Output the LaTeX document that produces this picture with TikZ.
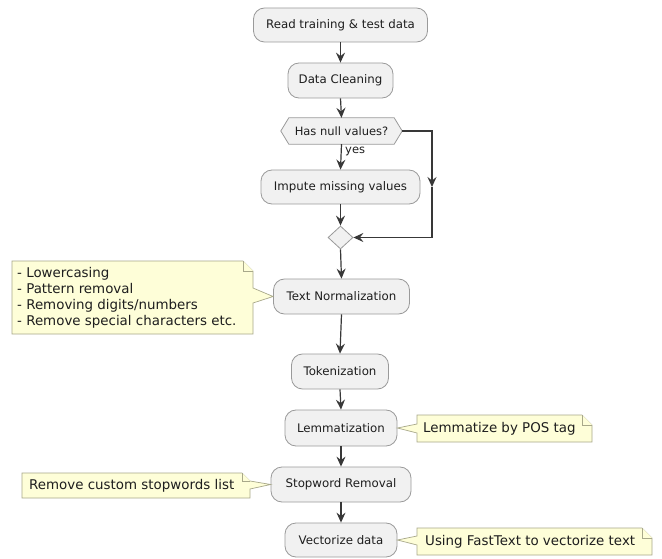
\documentclass[tikz,border=0pt]{standalone}
\usepackage{fontspec}
\setmainfont{DejaVu Sans}
\usetikzlibrary{arrows.meta,shapes.geometric,calc,backgrounds}
\definecolor{nodefill}{HTML}{F1F1F1}
\definecolor{nodeline}{HTML}{9A9A9A}
\definecolor{notefill}{HTML}{FEFED8}
\definecolor{noteline}{HTML}{A8A88A}
\definecolor{arrowc}{HTML}{383838}
\definecolor{txt}{HTML}{1E1E1E}
\tikzset{
  act/.style={draw=nodeline, fill=nodefill, rounded corners=11pt, line width=0.8pt, inner sep=0pt, text=txt, font=\fontsize{11.8}{14}\selectfont},
  arr/.style={draw=arrowc, line width=1.2pt, -{Stealth[length=10pt,width=9pt,inset=3.5pt]}},
  notebox/.style={draw=noteline, fill=notefill, line width=0.7pt, line join=miter},
  notetext/.style={font=\fontsize{13.4}{16}\selectfont, align=left, inner sep=0pt, anchor=west, text=txt},
  decbox/.style={draw=nodeline, fill=nodefill, line width=0.8pt},
}
\begin{document}
\begin{tikzpicture}[x=1pt,y=-1pt]
\useasboundingbox (0,0) rectangle (662,559);

% activity nodes
\node[act, minimum width=174pt, minimum height=34pt] (read) at (340.5,25) {Read training \& test data};
\node[act, minimum width=105pt, minimum height=35pt] (clean) at (340.5,80.5) {Data Cleaning};
\node[inner sep=0pt, minimum width=121pt, minimum height=26pt, text=txt, font=\fontsize{11.5}{13}\selectfont] (hex) at (341.5,131) {Has null values?};
\begin{pgfonlayer}{background}
\fill[white] (0,0) rectangle (662,559);
\draw[decbox] (hex.west) -- ([xshift=8pt]hex.north west) -- ([xshift=-8pt]hex.north east) -- (hex.east) -- ([xshift=-8pt]hex.south east) -- ([xshift=8pt]hex.south west) -- cycle;
\end{pgfonlayer}
\node[anchor=west, inner sep=0pt, text=txt, font=\fontsize{11.5}{13}\selectfont] (yes) at (345,151) {yes};
\node[act, minimum width=159pt, minimum height=34pt] (impute) at (340.5,187) {Impute missing values};
\node[decbox, diamond, minimum width=25pt, minimum height=23pt, inner sep=0pt] (merge) at (340.5,237.5) {};
\node[act, minimum width=136pt, minimum height=35pt] (norm) at (341.5,296.5) {Text Normalization};
\node[act, minimum width=97pt, minimum height=35pt] (token) at (340,371.5) {Tokenization};
\node[act, minimum width=112pt, minimum height=36pt] (lemma) at (341,428) {Lemmatization};
\node[act, minimum width=140pt, minimum height=35pt] (stop) at (341,484.5) {Stopword Removal};
\node[act, minimum width=112pt, minimum height=34pt] (vec) at (341,540) {Vectorize data};

% connectors
\draw[arr] (read.south) -- (clean.north);
\draw[arr] (clean.south) -- (hex.south |- hex.north);
\draw[arr] (hex.south) -- (impute.north);
\coordinate (c1) at (432,131);
\coordinate (cm) at (432,187);
\coordinate (c2) at (432,237.5);
\draw[arr] (hex.east) -- (c1) -- (cm);
\draw[arr] (cm) -- (c2) -- (merge.east);
\draw[arr] (impute.south) -- (merge.north);
\draw[arr] (merge.south) -- (norm.north);
\draw[arr] (norm.south) -- (token.north);
\draw[arr] (token.south) -- (lemma.north);
\draw[arr] (lemma.south) -- (stop.north);
\draw[arr] (stop.south) -- (vec.north);

% notes
\draw[notebox] (12,261) -- (243,261) -- (253,271) -- (253,288) -- (norm.west) -- (253,303) -- (253,334) -- (12,334) -- cycle;
\draw[notebox] (243,261) -- (243,271) -- (253,271);
\node[notetext] (n1) at (17,298) {- Lowercasing\\- Pattern removal\\- Removing digits/numbers\\- Remove special characters etc.};

\draw[notebox] (417,415) -- (582,415) -- (592,425) -- (592,442) -- (417,442) -- (417,433) -- (lemma.east) -- (417,424) -- cycle;
\draw[notebox] (582,415) -- (582,425) -- (592,425);
\node[notetext] (n2) at (423,428.5) {Lemmatize by POS tag};

\draw[notebox] (22,473) -- (242,473) -- (250,481) -- (stop.west) -- (250,489) -- (250,498) -- (22,498) -- cycle;
\draw[notebox] (242,473) -- (242,481) -- (250,481);
\node[notetext] (n3) at (29,485.5) {Remove custom stopwords list};

\draw[notebox] (417,528) -- (642,528) -- (652,538) -- (652,555) -- (417,555) -- (417,545) -- (vec.east) -- (417,536) -- cycle;
\draw[notebox] (642,528) -- (642,538) -- (652,538);
\node[notetext] (n4) at (425,541.5) {Using FastText to vectorize text};
\end{tikzpicture}
\end{document}
